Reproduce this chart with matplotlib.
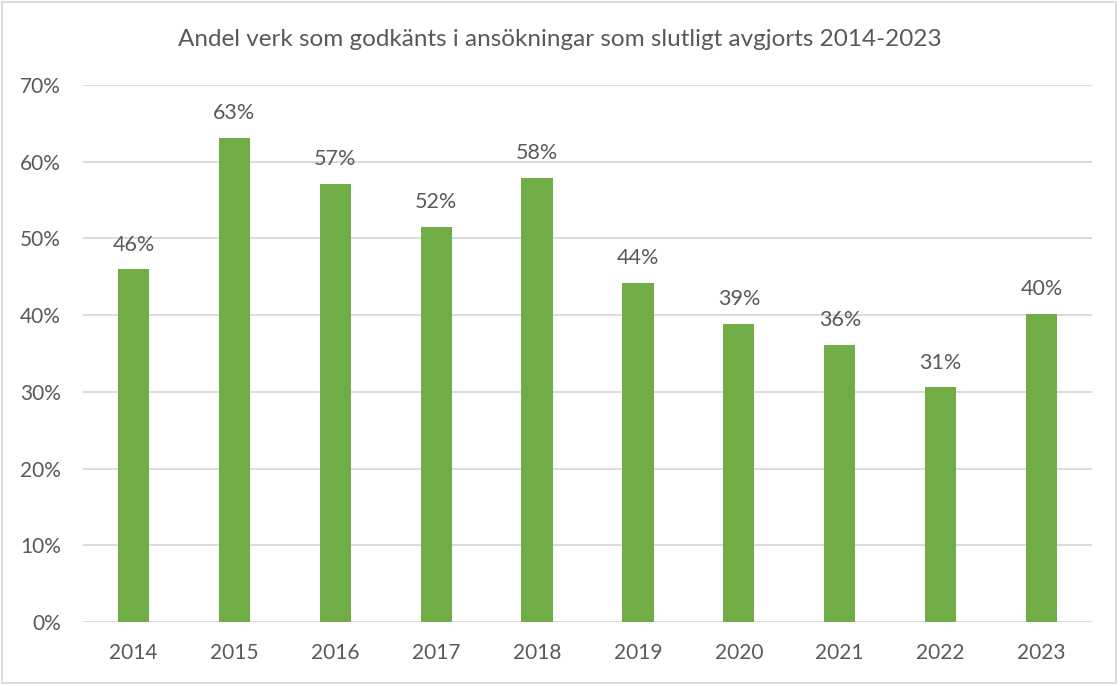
import matplotlib.pyplot as plt
from matplotlib.patches import Rectangle

plt.rcParams['font.family'] = ['Lato', 'DejaVu Sans']

years = ['2014', '2015', '2016', '2017', '2018', '2019', '2020', '2021', '2022', '2023']
andel = [46.0, 63.1, 57.1, 51.5, 57.9, 44.2, 38.9, 36.1, 30.6, 40.2]
ticks = [0, 10, 20, 30, 40, 50, 60, 70]

grey = '#595959'
line = '#D9D9D9'

fig = plt.figure(figsize=(11.2, 6.86), dpi=100)
ax = fig.add_axes([83 / 1120, 64 / 686, 1009 / 1120, 537 / 686])

x = range(len(years))
bars = ax.bar(x, andel, width=0.31, color='#70AD47', zorder=3)
for i, v in enumerate(andel):
    ax.text(i, v + 1.9, '%.0f%%' % v, ha='center', va='bottom', fontsize=15.5, color=grey)

ax.set_xlim(-0.5, len(years) - 0.5)
ax.set_ylim(0, 70)
ax.set_yticks(ticks)
ax.set_yticklabels(['%d%%' % t for t in ticks])
ax.set_xticks(list(x))
ax.set_xticklabels(years)
ax.tick_params(axis='both', length=0, labelsize=15, labelcolor=grey)
ax.tick_params(axis='y', pad=16)
ax.tick_params(axis='x', pad=15)
ax.grid(axis='y', color=line, linewidth=1.3, zorder=0)
for s in ax.spines.values():
    s.set_visible(False)

fig.text(0.5, 1 - 40 / 686, 'Andel verk som godkänts i ansökningar som slutligt avgjorts 2014-2023',
         ha='center', va='center', fontsize=17.5, color=grey)

fig.patches.append(Rectangle((2 / 1120, 3 / 686), 1114 / 1120, 681 / 686, transform=fig.transFigure,
                             fill=False, edgecolor=line, linewidth=1.3))

fig.savefig('out.png', dpi=100)
